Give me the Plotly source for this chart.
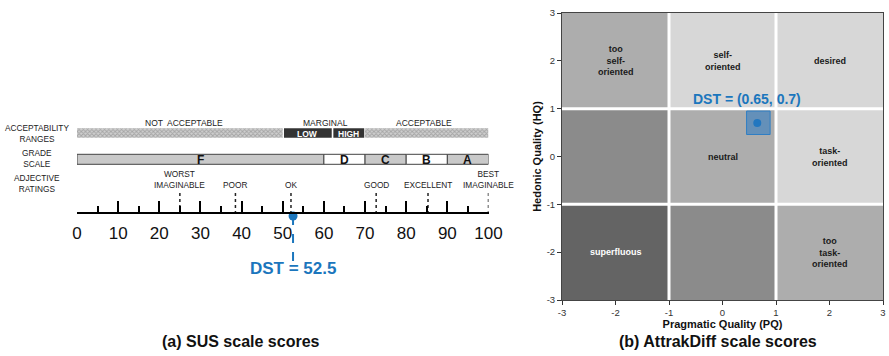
import plotly.graph_objects as go

# ---------------- data: SUS panel ----------------
sus_ticks = [0, 10, 20, 30, 40, 50, 60, 70, 80, 90, 100]
grade_labels = ["F", "D", "C", "B", "A"]
grade_start = [0, 60, 70, 80, 90]
grade_end = [60, 70, 80, 90, 100]
grade_fill = ["#c9c9c9", "#ffffff", "#c9c9c9", "#ffffff", "#c9c9c9"]

accept_labels = ["NOT  ACCEPTABLE", "ACCEPTABLE"]
accept_start = [0, 70]
accept_end = [50, 100]
accept_label_pos = [26, 84.4]
marginal_labels = ["LOW", "HIGH"]
marginal_start = [50.3, 62.3]
marginal_end = [61.9, 69.8]
marginal_title_pos = 60.5

adjective_labels = ["WORST<br>IMAGINABLE", "POOR", "OK", "GOOD", "EXCELLENT", "BEST<br>IMAGINABLE"]
adjective_pos = [25, 38.5, 52, 72.7, 85.3, 100]

sus_score = 52.5

# ---------------- data: AttrakDiff panel ----------------
quad_ticks = [-3, -2, -1, 0, 1, 2, 3]
quad_ticktext = ["-3", "-2", "-1", "0", "1", "2", "3"]
cell_x = [-2, 0, 2]
cell_y = [-2, 0, 2]
cell_level = [[3, 2, 1],
              [2, 1, 0],
              [1, 0, 0]]
cell_text = [["superfluous", "", "too<br>task-<br>oriented"],
             ["", "neutral", "task-<br>oriented"],
             ["too<br>self-<br>oriented", "self-<br>oriented", "desired"]]
region_bounds = [-1, 1]
pq_score = 0.65
hq_score = 0.7
pq_ci = [0.45, 0.89]
hq_ci = [0.46, 0.95]

BLUE = "#1b76bd"
FONT = "Liberation Sans, Arial, sans-serif"
W, H = 889, 356

fig = go.Figure()

# ---------- SUS panel (x: score axis, y: pixel rows) ----------
def hbar(starts, ends, ycen, thick, **kw):
    return go.Bar(orientation="h", y=[ycen] * len(starts),
                  x=[e - s for s, e in zip(starts, ends)], base=starts,
                  width=thick, xaxis="x", yaxis="y", showlegend=False,
                  hoverinfo="skip", cliponaxis=False, **kw)

ROW_ACC, ROW_GRADE = 133, 159.3
fig.add_trace(hbar(accept_start, accept_end, ROW_ACC, 9.5,
                   marker=dict(color="#b4b4b4", line=dict(width=0),
                               pattern=dict(shape="x", size=3, solidity=0.5,
                                            fgcolor="#7a7a7a", bgcolor="#cfcfcf"))))
fig.add_trace(hbar(marginal_start, marginal_end, ROW_ACC, 9.5,
                   marker=dict(color="#333333", line=dict(width=0))))
fig.add_trace(hbar(grade_start, grade_end, ROW_GRADE, 10,
                   marker=dict(color=grade_fill, line=dict(color="#444444", width=1))))

# adjective dotted markers
dx, dy = [], []
for p in adjective_pos:
    dx += [p, p, None]
    dy += [193, 212, None]
fig.add_trace(go.Scatter(x=dx, y=dy, mode="lines", xaxis="x", yaxis="y",
                         line=dict(color="#222222", width=1.5, dash="dot"),
                         showlegend=False, hoverinfo="skip"))

# DST on SUS
fig.add_trace(go.Scatter(x=[sus_score, sus_score], y=[216, 262], mode="lines",
                         xaxis="x", yaxis="y", line=dict(color=BLUE, width=2, dash="dash"),
                         showlegend=False, hoverinfo="skip"))
fig.add_trace(go.Scatter(x=[sus_score], y=[216], mode="markers", xaxis="x", yaxis="y",
                         marker=dict(color=BLUE, size=9), cliponaxis=False,
                         showlegend=False, hoverinfo="skip"))

ann = []
for lab, s, e in zip(grade_labels, grade_start, grade_end):
    ann.append(dict(x=(s + e) / 2, y=ROW_GRADE + 0.5, xref="x", yref="y", text=f"<b>{lab}</b>",
                    showarrow=False, font=dict(size=12, color="#111", family=FONT)))
for lab, p in zip(accept_labels, accept_label_pos):
    ann.append(dict(x=p, y=122.5, xref="x", yref="y", text=lab, showarrow=False,
                    font=dict(size=8.5, color="#222", family=FONT)))
ann.append(dict(x=marginal_title_pos, y=122.5, xref="x", yref="y", text="MARGINAL",
                showarrow=False, font=dict(size=8.5, color="#222", family=FONT)))
for lab, s, e in zip(marginal_labels, marginal_start, marginal_end):
    ann.append(dict(x=(s + e) / 2, y=ROW_ACC + 0.5, xref="x", yref="y", text=f"<b>{lab}</b>",
                    showarrow=False, font=dict(size=8.5, color="white", family=FONT)))
for lab, p in zip(adjective_labels, adjective_pos):
    ann.append(dict(x=p, y=192, xref="x", yref="y", text=lab, showarrow=False,
                    yanchor="bottom", font=dict(size=8.3, color="#222", family=FONT)))
ann.append(dict(x=sus_score, y=268, xref="x", yref="y", text=f"<b>DST = {sus_score}</b>",
                showarrow=False, font=dict(size=17, color=BLUE, family=FONT)))
for txt, yc in [("ACCEPTABILITY<br>RANGES", 133), ("GRADE<br>SCALE", 158), ("ADJECTIVE<br>RATINGS", 183)]:
    ann.append(dict(x=37 / W, y=1 - yc / H, xref="paper", yref="paper", text=txt,
                    xanchor="center", yanchor="middle", showarrow=False,
                    font=dict(size=8.3, color="#222", family=FONT)))

# ---------- AttrakDiff panel ----------
fig.add_trace(go.Heatmap(x=cell_x, y=cell_y, z=cell_level, xaxis="x2", yaxis="y2",
                         zmin=0, zmax=3, showscale=False, hoverinfo="skip",
                         colorscale=[[0, "#d7d7d7"], [1 / 3, "#adadad"],
                                     [2 / 3, "#8b8b8b"], [1, "#646464"]]))
shapes = []
for b in region_bounds:
    shapes.append(dict(type="line", xref="x2", yref="y2", x0=b, x1=b, y0=-3, y1=3,
                       line=dict(color="white", width=3)))
    shapes.append(dict(type="line", xref="x2", yref="y2", x0=-3, x1=3, y0=b, y1=b,
                       line=dict(color="white", width=3)))
shapes.append(dict(type="rect", xref="x2", yref="y2", x0=pq_ci[0], x1=pq_ci[1],
                   y0=hq_ci[0], y1=hq_ci[1], fillcolor="rgba(40,120,195,0.55)",
                   line=dict(color="#2f7ec4", width=1)))
fig.add_trace(go.Scatter(x=[pq_score], y=[hq_score], mode="markers", xaxis="x2", yaxis="y2",
                         marker=dict(color=BLUE, size=8), showlegend=False, hoverinfo="skip"))

for j, yv in enumerate(cell_y):
    for i, xv in enumerate(cell_x):
        t = cell_text[j][i]
        if t:
            col = "white" if cell_level[j][i] == 3 else "#1a1a1a"
            ann.append(dict(x=xv, y=yv, xref="x2", yref="y2", text=f"<b>{t}</b>",
                            showarrow=False, font=dict(size=9, color=col, family=FONT)))
ann.append(dict(x=0.45, y=1.2, xref="x2", yref="y2", text=f"<b>DST = ({pq_score}, {hq_score})</b>",
                showarrow=False, font=dict(size=14, color=BLUE, family=FONT)))

# captions
for txt, xc in [("<b>(a) SUS scale scores</b>", 241), ("<b>(b) AttrakDiff scale scores</b>", 718)]:
    ann.append(dict(x=xc / W, y=1 - 341 / H, xref="paper", yref="paper", text=txt,
                    xanchor="center", yanchor="middle", showarrow=False,
                    font=dict(size=16, color="#111", family=FONT)))

axis2_common = dict(range=[-3, 3], tickvals=quad_ticks, ticktext=quad_ticktext,
                    ticks="outside", ticklen=4, tickcolor="#333", showline=True,
                    linecolor="#444", mirror=True, showgrid=False, zeroline=False,
                    automargin=False, tickfont=dict(size=9.5, color="#333", family=FONT))

fig.update_layout(
    width=W, height=H, margin=dict(l=0, r=0, t=0, b=0, autoexpand=False),
    paper_bgcolor="white", plot_bgcolor="rgba(0,0,0,0)",
    barmode="overlay", showlegend=False,
    xaxis=dict(domain=[77 / W, 488.5 / W], range=[0, 100], anchor="free",
               position=1 - 213 / H, tickvals=sus_ticks, ticks="inside", ticklen=11,
               tickwidth=2, tickcolor="black", showline=True, linewidth=2,
               linecolor="black", showgrid=False, zeroline=False, automargin=False,
               ticklabelstandoff=5,
               tickfont=dict(size=17, color="#111", family=FONT),
               minor=dict(dtick=5, ticks="inside", ticklen=6, tickwidth=2,
                          tickcolor="black", showgrid=False)),
    yaxis=dict(domain=[0, 1], range=[H, 0], anchor="x", visible=False,
               showgrid=False, zeroline=False, automargin=False),
    xaxis2=dict(domain=[562 / W, 883 / W], anchor="y2",
                title=dict(text="<b>Pragmatic Quality (PQ)</b>", standoff=2,
                           font=dict(size=11, color="#111", family=FONT)),
                **axis2_common),
    yaxis2=dict(domain=[1 - 300 / H, 1 - 13 / H], anchor="x2",
                title=dict(text="<b>Hedonic Quality (HQ)</b>", standoff=2,
                           font=dict(size=11, color="#111", family=FONT)),
                **axis2_common),
    shapes=shapes, annotations=ann,
)

fig.write_html("out.html", config={"displayModeBar": False},
               post_script="document.body.style.margin='0px';document.body.style.overflow='hidden';")
